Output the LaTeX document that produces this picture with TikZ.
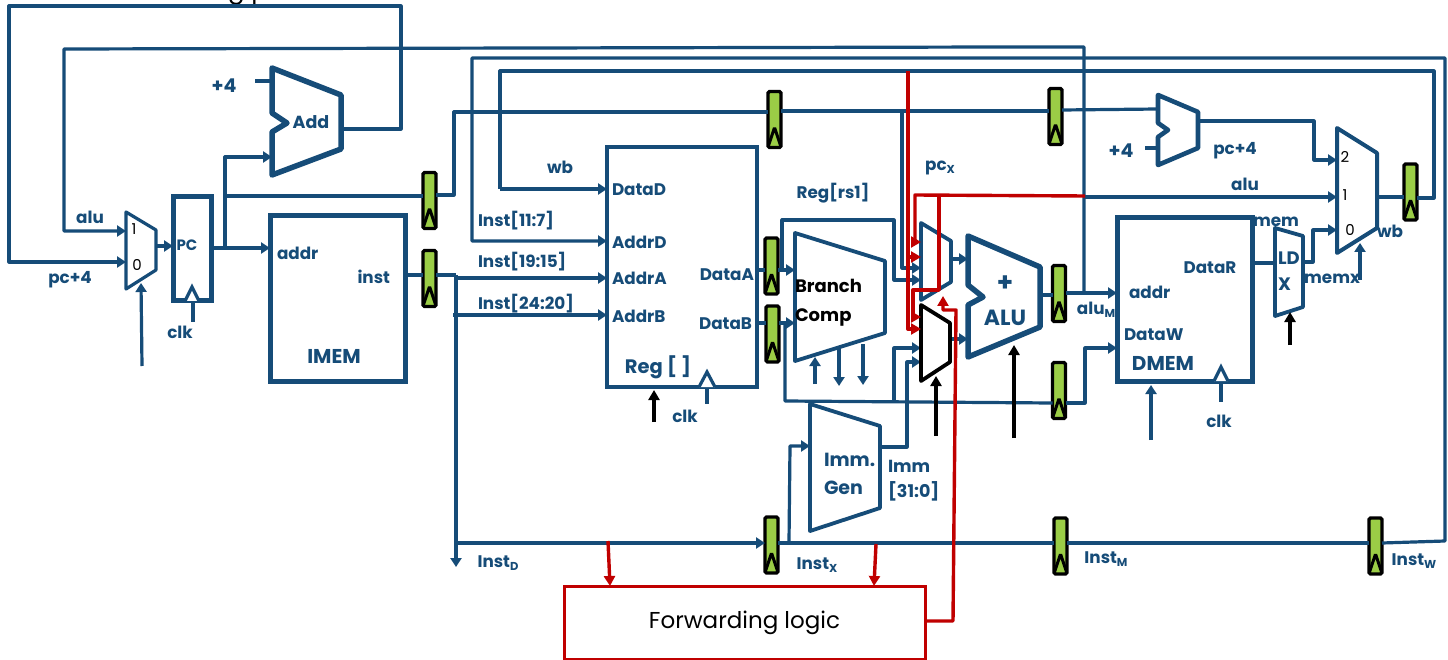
\documentclass[tikz,border=0pt]{standalone}
\usepackage{fontspec}
\setmainfont{Poppins}
\usetikzlibrary{arrows.meta,fit}
\definecolor{wireblue}{RGB}{22,76,120}
\definecolor{regreen}{RGB}{155,205,70}
\definecolor{fwdred}{RGB}{192,0,0}
\tikzset{
  x=1pt,y=-1pt,
  wire/.style={draw=wireblue,line width=3.2pt,line join=round},
  awire/.style={wire,-{Triangle[length=9pt,width=11pt]}},
  redw/.style={draw=fwdred,line width=3.4pt,line join=round},
  ared/.style={redw,-{Triangle[length=10pt,width=11pt]}},
  ctl/.style={draw=black,line width=3.4pt,-{Triangle[length=10pt,width=11pt]}},
  blockA/.style={draw=wireblue,line width=5.5pt,line join=round,fill=white},
  blockB/.style={draw=wireblue,line width=3.8pt,line join=round,fill=white},
  rectblock/.style={draw=wireblue,line width=5pt,inner sep=0pt,outer sep=0pt,fill=white},
  ghost/.style={inner sep=0pt,outer sep=0pt},
  lbl/.style={inner sep=0pt,outer sep=0pt,text=wireblue,font=\fontsize{16.8}{18}\selectfont\bfseries},
  dig/.style={inner sep=0pt,outer sep=0pt,text=black,font=\fontsize{15}{16}\selectfont},
  regbox/.style={draw=black,line width=3.4pt,fill=regreen,rounded corners=1.5pt,inner sep=0pt,outer sep=0pt,
    minimum width=13pt,minimum height=56pt,
    path picture={
      \draw[black,line width=3pt,miter limit=10]
        ([xshift=-6pt,yshift=2pt]path picture bounding box.south) -- ([yshift=20pt]path picture bounding box.south) -- ([xshift=6pt,yshift=2pt]path picture bounding box.south);
    }},
  clktri/.style={draw=wireblue,line width=3.2pt,fill=white,line join=miter},
}
\newcommand{\sub}[1]{\raisebox{-0.3ex}{\fontsize{11.5}{12}\selectfont #1}}
\begin{document}
\begin{tikzpicture}
\useasboundingbox (0,0) rectangle (1448,660);
\fill[white] (0,0) rectangle (1448,660);

% clipped text at the top edge
\node[anchor=base,inner sep=0pt,text=black,font=\fontsize{25}{26}\selectfont] (cut) at (248,-1) {g p};

% pipeline registers
\node[regbox] (rPCf) at (429.5,200.5) {};
\node[regbox] (rIf)  at (429.5,278.5) {};
\node[regbox] (rPCd) at (774.5,119.5) {};
\node[regbox] (rAd)  at (771.5,266) {};
\node[regbox] (rBd)  at (772.5,334) {};
\node[regbox] (rId)  at (771.5,545) {};
\node[regbox] (rPCx) at (1055.5,116.5) {};
\node[regbox] (rAx)  at (1059,293.5) {};
\node[regbox] (rBx)  at (1059,390.5) {};
\node[regbox] (rIx)  at (1060.5,546) {};
\node[regbox] (rW)   at (1410.5,192) {};
\node[regbox] (rIw)  at (1375.5,546) {};

% rectangular blocks
\node[rectblock,minimum width=38pt,minimum height=104pt] (pc) at (192,249) {};
\node[rectblock,minimum width=135pt,minimum height=165pt] (imem) at (337.5,298.5) {};
\node[rectblock,line width=4.4pt,minimum width=150pt,minimum height=240pt] (reg) at (682,267) {};
\node[rectblock,minimum width=135pt,minimum height=163pt] (dmem) at (1184.5,299.5) {};
\node[draw=fwdred,line width=3pt,inner sep=0pt,outer sep=0pt,minimum width=361pt,minimum height=73pt,fill=white,
      font=\fontsize{23}{26}\selectfont,text=black] (fwd) at (744.5,622.5) {Forwarding logic};

% ghost nodes giving the polygon blocks a name and extent
\node[ghost,fit={(126,212)(156,289)}] (muxPC) {};
\node[ghost,fit={(272,68)(341,175)}] (add) {};
\node[ghost,fit={(795,233)(885,361)}] (bcmp) {};
\node[ghost,fit={(810,404)(880,531)}] (imm) {};
\node[ghost,fit={(921,223)(951,300)}] (muxA) {};
\node[ghost,fit={(921,305)(950,381)}] (muxB) {};
\node[ghost,fit={(968,236)(1040,357)}] (alu) {};
\node[ghost,fit={(1158,95)(1198,165)}] (add2) {};
\node[ghost,fit={(1275,228)(1303,316)}] (ldx) {};
\node[ghost,fit={(1337,128)(1377,253)}] (muxW) {};

% --- wires -----------------------------------------------------------
\draw[awire] (add.east |- 0,129) -- (401,129) -- (401,6) -- (9,6) -- (9,262) -- (muxPC.west |- 0,262);
\draw[awire] (1084,293) -- (1084,47) -- (1000,47) -- (64,49) -- (64,231) -- (muxPC.west |- 0,231);
\draw[awire] (rIw.east |- 0,543) -- (1445,541) -- (1445,58) -- (472,58) -- (472,241) -- (reg.west |- 0,241);
\draw[wire] (rW.east |- 0,198) -- (1434,198) -- (1434,71) -- (500,71) -- (500,189);
\draw[awire] (500,189) -- (reg.west |- 0,189);

\draw[awire] (muxPC.east |- 0,246) -- (pc.west |- 0,246);
\draw[awire] (pc.east |- 0,248) -- (imem.west |- 0,248);
\draw[awire] (225,248) -- (225,157) -- (add.west |- 0,157);
\draw[wire] (225,196) -- (rPCf.west |- 0,196);
\draw[wire] (rPCf.east |- 0,195) -- (454,195) -- (454,112) -- (rPCd.west |- 0,112);
\draw[wire] (rPCd.east |- 0,111) -- (rPCx.west |- 0,111);
\draw[wire] (rPCx.east |- 0,110) -- (add2.west |- 0,109);
\draw[awire] (902,111) -- (902,268) -- (muxA.west |- 0,268);

\draw[wire] (imem.east |- 0,275) -- (rIf.west |- 0,275);
\draw[wire] (rIf.east |- 0,275) -- (456,275);
\draw[awire] (456,275) -- (456,567);
\draw[awire] (456,278) -- (reg.west |- 0,278);
\draw[awire] (453,315) -- (reg.west |- 0,315);
\draw[awire] (456,543) -- (rId.west |- 0,543);
\draw[wire] (rId.east |- 0,543) -- (rIx.west |- 0,543);
\draw[wire] (rIx.east |- 0,543) -- (rIw.west |- 0,543);
\draw[awire] (789,542) -- (790,446) -- (imm.west |- 0,446);

\draw[wire] (reg.east |- 0,270) -- (rAd.west |- 0,270);
\draw[wire] (reg.east |- 0,323) -- (rBd.west |- 0,323);
\draw[awire] (rAd.east |- 0,270) -- (bcmp.west |- 0,270);
\draw[awire] (rBd.east |- 0,323) -- (bcmp.west |- 0,323);
\draw[awire] (782,270) -- (782,220) -- (894,220) -- (894,280) -- (muxA.west |- 0,280);
\draw[wire] (785,323) -- (785,401) -- (rBx.west |- 0,403);
\draw[awire] (894,402) -- (894,348) -- (muxB.west |- 0,348);
\draw[awire] (imm.east |- 0,447) -- (907,447) -- (907,362) -- (muxB.west |- 0,362);
\draw[awire] (rBx.east |- 0,403) -- (1085,403) -- (1085,348) -- (dmem.west |- 0,348);

\draw[awire] (815,384) -- (815,357);
\draw[awire] (839,349) -- (839,386);
\draw[awire] (863,344) -- (863,385);

\draw[awire] (muxA.east |- 0,259) -- (alu.west |- 0,259);
\draw[awire] (muxB.east |- 0,339) -- (alu.west |- 0,339);
\draw[wire] (alu.east |- 0,295) -- (rAx.west |- 0,295);
\draw[awire] (rAx.east |- 0,293) -- (dmem.west |- 0,293);
\draw[awire] (1085,197) -- (muxW.west |- 0,197);

\draw[awire] (add2.east |- 0,121) -- (1314,121) -- (1314,160) -- (muxW.west |- 0,160);
\draw[wire] (1145,148) -- (add2.west |- 0,148);
\draw[wire] (255,81) -- (add.west |- 0,81);
\draw[wire] (dmem.east |- 0,263) -- (ldx.west |- 0,263);
\draw[awire] (ldx.east |- 0,262) -- (1313,262) -- (1313,230) -- (muxW.west |- 0,230);
\draw[wire] (muxW.east |- 0,197) -- (rW.west |- 0,197);
\draw[awire] (1360,280) -- (1360,243);

\draw[awire] (142,366) -- (141,283);
\draw[awire] (1151,440) -- (1151,385);

\draw[wire] (193,301) -- (193,322);
\draw[wire] (707,387) -- (707,404);
\draw[wire] (1221,381) -- (1221,402);

% --- polygon blocks ---------------------------------------------------
\draw[blockB,line width=3.2pt] (126,212) -- (156,230) -- (156,270) -- (126,289) -- cycle;
\draw[blockA] (272,68) -- (341,95) -- (341,149) -- (272,175) -- (272,132) -- (287,123) -- (272,113) -- cycle;
\draw[blockB] (795,233) -- (885,261) -- (885,333) -- (795,361) -- cycle;
\draw[blockB] (810,404) -- (880,426) -- (880,508) -- (810,531) -- cycle;
\draw[blockB] (921,223) -- (951,241) -- (951,282) -- (921,300) -- cycle;
\draw[draw=black,line width=3.8pt,fill=white,line join=round] (921,305) -- (950,323) -- (950,362) -- (921,381) -- cycle;
\draw[blockA] (968,236) -- (1040,267) -- (1040,327) -- (968,357) -- (968,305) -- (983,297) -- (968,285) -- cycle;
\draw[blockA,line width=4.6pt] (1158,95) -- (1198,112) -- (1198,148) -- (1158,165) -- (1158,137) -- (1168,130) -- (1158,123) -- cycle;
\draw[blockB] (1275,228) -- (1303,236) -- (1303,307) -- (1275,316) -- cycle;
\draw[blockB,line width=4pt] (1337,128) -- (1377,153) -- (1377,228) -- (1337,253) -- cycle;

% clock triangles
\draw[clktri] (185,301) -- (192,287) -- (199,301);
\draw[clktri] (699,387) -- (707,372) -- (715,387);
\draw[clktri] (1214,381) -- (1221,367) -- (1228,381);

% --- red forwarding wires ---------------------------------------------
\draw[ared] (908,71) -- (908,329) -- (muxB.west |- 0,329);
\draw[ared] (908,257) -- (muxA.west |- 0,257);
\draw[ared] (1085,196) -- (915,195) -- (915,242) -- (muxA.west |- 0,242);
\draw[ared] (939,195) -- (939,290) -- (913,290) -- (913,317) -- (muxB.west |- 0,317);
\draw[ared] (fwd.east |- 0,621) -- (953,621) -- (956,310) -- (943,310) -- (943,296);
\draw[ared] (608,541) -- (fwd.north -| 610,0);
\draw[ared] (876,544) -- (fwd.north -| 874,0);

% --- control arrows ---------------------------------------------------
\draw[ctl] (654,422) -- (654,390);
\draw[ctl] (936,436) -- (936,376);
\draw[ctl] (1014,438) -- (1014,345);
\draw[ctl] (1290,345) -- (1290,312);

% --- labels -----------------------------------------------------------
\node[lbl] (l01) at (90,217) {alu};
\node[lbl] (l02) at (70,280) {pc+4};
\node[dig] (l03) at (134,229) {1};
\node[dig] (l04) at (137,265) {0};
\node[lbl,font=\fontsize{19}{20}\selectfont\bfseries] (l05) at (224,86) {+4};
\node[lbl,font=\fontsize{17.5}{18}\selectfont\bfseries] at (311,122) {Add};
\node[lbl,font=\fontsize{15}{16}\selectfont\bfseries] at (187,245) {PC};
\node[lbl] at (180,332) {clk};
\node[lbl,anchor=west] at (277,253) {addr};
\node[lbl,anchor=east] at (390,277) {inst};
\node[lbl,font=\fontsize{20}{20}\selectfont\bfseries] at (334,356) {IMEM};
\node[lbl] at (560,167) {wb};
\node[lbl,anchor=west] at (478,221) {Inst[11:7]};
\node[lbl,anchor=west] at (478,262) {Inst[19:15]};
\node[lbl,anchor=west] at (478,304) {Inst[24:20]};
\node[lbl,anchor=west] at (612,190) {DataD};
\node[lbl,anchor=west] at (612,242) {AddrD};
\node[lbl,anchor=west] at (612,278) {AddrA};
\node[lbl,anchor=west] at (612,316) {AddrB};
\node[lbl,anchor=east] at (754,275) {DataA};
\node[lbl,anchor=east] at (752,324) {DataB};
\node[lbl,font=\fontsize{19.5}{20}\selectfont\bfseries] at (658,367) {Reg [ ]};
\node[lbl] at (685,416) {clk};
\node[lbl] at (833,193) {Reg[rs1]};
\node[lbl] at (940,168) {pc\sub{X}};
\node[lbl,anchor=west,align=left,text=black,font=\fontsize{18}{29}\selectfont\bfseries] at (795,303) {Branch\\Comp};
\node[lbl,anchor=west,font=\fontsize{19}{28}\selectfont\bfseries,align=left] at (824,474) {Imm.\\Gen};
\node[lbl,anchor=west,align=left,font=\fontsize{17.5}{25}\selectfont\bfseries] at (888,481) {Imm\\[0pt]{[31:0]}};
\node[lbl,font=\fontsize{26}{26}\selectfont\bfseries] at (1005,284) {+};
\node[lbl,font=\fontsize{22}{22}\selectfont\bfseries] at (1005,318) {ALU};
\node[lbl] at (1096,310) {alu\sub{M}};
\node[lbl,anchor=west] at (1129,292) {addr};
\node[lbl,anchor=west] at (1124,335) {DataW};
\node[lbl,font=\fontsize{20}{20}\selectfont\bfseries] at (1163,363) {DMEM};
\node[lbl] at (1210,268) {DataR};
\node[lbl] at (1219,421) {clk};
\node[lbl,font=\fontsize{19}{20}\selectfont\bfseries] at (1121,151) {+4};
\node[lbl] at (1235,151) {pc+4};
\node[lbl] at (1245,184) {alu};
\node[dig] at (1345,157) {2};
\node[dig] at (1345,195) {1};
\node[dig] at (1350,230) {0};
\node[lbl] at (1276,222) {mem};
\node[lbl,font=\fontsize{18}{26}\selectfont\bfseries,align=left,anchor=west] at (1278,271) {LD\\X};
\node[lbl] at (1332,279) {memx};
\node[lbl] at (1390,231) {wb};
\node[lbl] at (498,563) {Inst\sub{D}};
\node[lbl] at (817,565) {Inst\sub{X}};
\node[lbl] at (1106,559) {Inst\sub{M}};
\node[lbl] at (1414,561) {Inst\sub{W}};
\end{tikzpicture}
\end{document}
